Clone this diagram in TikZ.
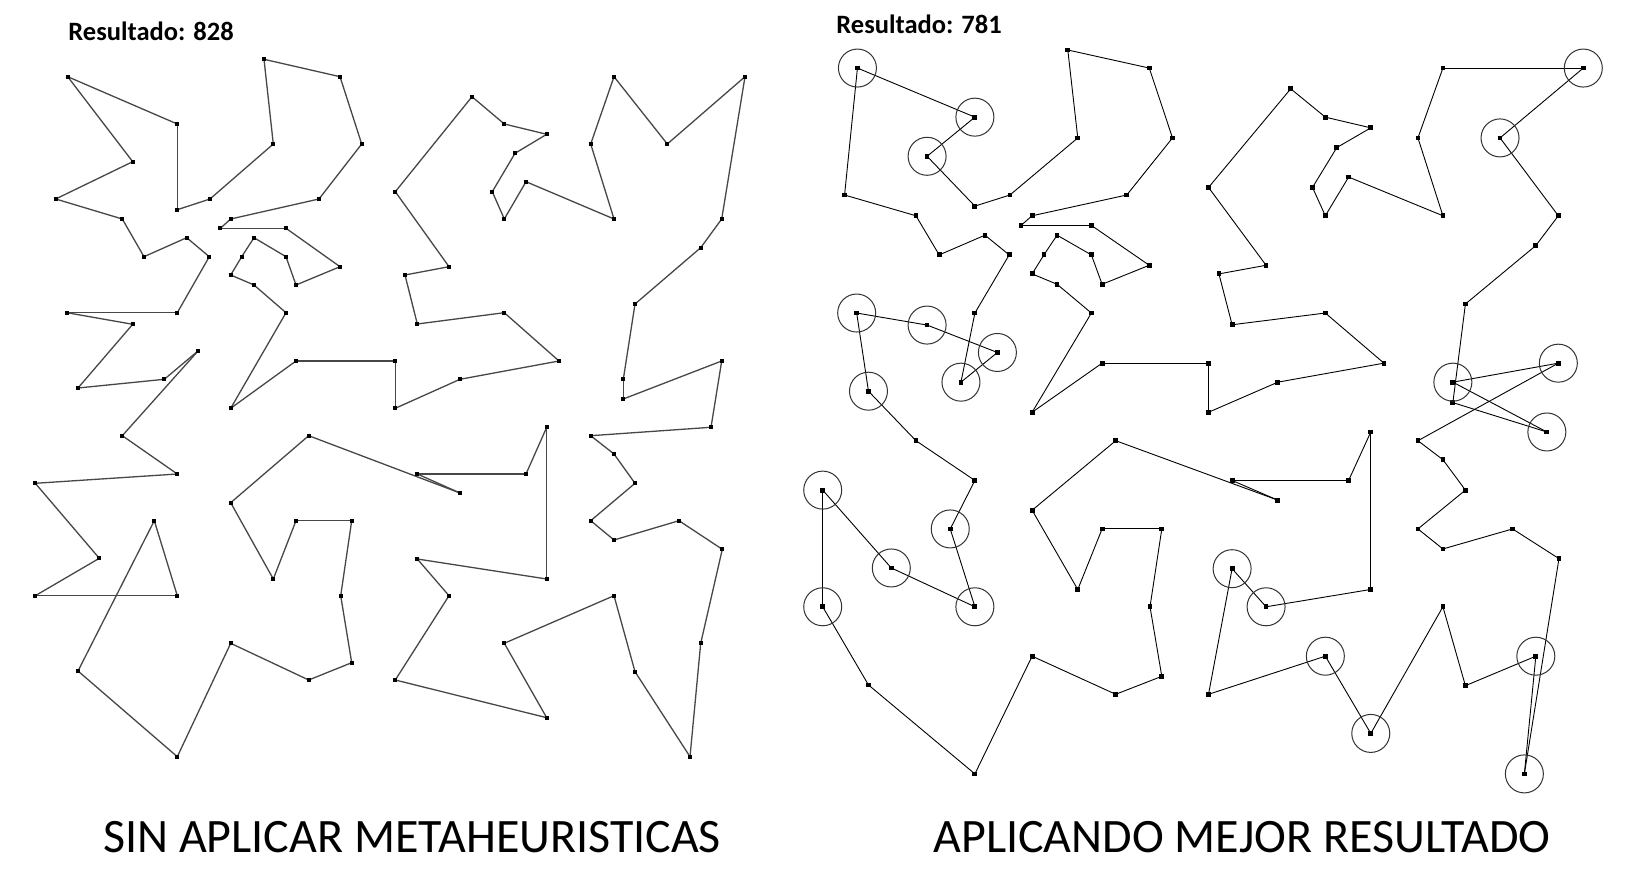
\documentclass[tikz,border=0pt]{standalone}
\usepackage{fontspec}
\setmainfont{Carlito}
\begin{document}
\begin{tikzpicture}[x=0.5pt,y=-0.5pt,
  ldot/.style={rectangle,fill=black,inner sep=0pt,minimum size=2pt},
  rdot/.style={rectangle,fill=black,inner sep=0pt,minimum size=2.4pt},
  ltour/.style={draw=black!72,line width=0.65pt,line cap=round},
  rtour/.style={draw=black,line width=0.45pt,line cap=round},
  ring/.style={circle,draw=black!80,line width=0.5pt,minimum size=19pt,inner sep=0pt},
  score/.style={font=\fontsize{13.25}{16}\selectfont\bfseries,anchor=base west,inner sep=0pt},
  caption/.style={font=\fontsize{24}{28}\selectfont,anchor=base,inner sep=0pt}]
\fill[white] (0,0) rectangle (1642,876);
\useasboundingbox (0,0) rectangle (1642,876);
% cities (left panel pixel coordinates), right panel is an affine copy
\foreach \i/\x/\y in {
1/67.7/76.7, 2/132.7/161.7, 3/55.7/199, 4/122.3/219, 5/144/256.7,
6/186.7/237.7, 7/209.3/256.7, 8/177.3/312.7, 9/67/312.7, 10/132.7/324.3,
11/78/388, 12/164.3/379.3, 13/198.3/350.7, 14/122.3/435.7, 15/177.3/474,
16/35.3/483.3, 17/99.3/558.3, 18/35.3/595.7, 19/177.3/595.7, 20/154.3/520.7,
21/78/671, 22/177.3/756.7, 23/230.7/643.3, 24/308.7/680, 25/351.7/662.7,
26/340.7/595.7, 27/351.7/520.7, 28/296/520.7, 29/273.3/579, 30/230.7/502.7,
31/308.7/435.7, 32/460/493, 33/417.3/474, 34/526/474, 35/546.7/427.3,
36/546.7/579, 37/417.3/559, 38/449/595.7, 39/395.3/680, 40/546.7/717.7,
41/504.3/643.3, 42/614/595.7, 43/635/671.7, 44/690/756.7, 45/700.7/643.3,
46/722.3/549.3, 47/679/520.7, 48/614/540, 49/590.7/520.7, 50/635/483.3,
51/614/454, 52/590.7/435.7, 53/711/427.3, 54/721.7/361, 55/623.3/399,
56/623.3/379.3, 57/635/304, 58/700.7/247.7, 59/721.7/219, 60/745/76.7,
61/667.3/144, 62/614/76.7, 63/590.7/144, 64/614/219, 65/526/181.7,
66/504.3/219, 67/492.3/191.7, 68/515/153.3, 69/546.7/134.3, 70/504.3/124,
71/472/96.7, 72/395.3/191.7, 73/449/266.7, 74/405/275, 75/417.3/324,
76/504.3/312.7, 77/559/361, 78/460/379.3, 79/395.3/408.3, 80/395.3/361,
81/296/361, 82/230.7/408.3, 83/286/312.7, 84/254/285, 85/230.7/275,
86/241.7/256.7, 87/254/237.7, 88/286/256.7, 89/296/285, 90/340/266.7,
91/286/228.3, 92/220.3/228.3, 93/230.7/219, 94/319/199, 95/361.7/144,
96/340/76.7, 97/264/59.3, 98/273.3/144, 99/210/199, 100/177.3/209.7,
101/177.3/124}{
  \coordinate (L\i) at (\x,\y);
  \coordinate (R\i) at ({1.0717*\x+784.87},{1.038*\y-11.55});
}
% left tour
\foreach \c [remember=\c as \p (initially 101)] in {1,...,101}{
  \draw[ltour] (L\p) -- (L\c);
}
% right tour
\foreach \c [remember=\c as \p (initially 101)] in {1,3,4,5,6,7,8,12,13,10,9,11,14,15,20,19,17,16,18,21,22,23,24,25,26,27,28,29,30,31,32,33,34,35,36,38,37,39,41,40,42,43,45,44,46,47,48,49,50,51,52,54,56,53,55,57,58,59,61,60,62,63,64,65,66,67,68,69,70,71,72,73,74,75,76,77,78,79,80,81,82,83,84,85,86,87,88,89,90,91,92,93,94,95,96,97,98,99,100,2,101}{
  \draw[rtour] (R\p) -- (R\c);
}
% city markers
\foreach \i in {1,...,101}{
  \node[ldot] (dl\i) at (L\i) {};
  \node[rdot] (dr\i) at (R\i) {};
}
% highlighted cities
\foreach \i in {1,101,2,9,10,13,12,11,16,20,17,18,19,37,38,41,40,45,44,60,61,56,54,53}{
  \node[ring] (ring\i) at (R\i) {};
}
% texts
\node[score] (s1) at (68,40.7) {Resultado: 828};
\node[score] (s2) at (836,34) {Resultado: 781};
\node[caption] (t1) at (412,852) {SIN APLICAR METAHEURISTICAS};
\node[caption] (t2) at (1242,852) {APLICANDO MEJOR RESULTADO};
\end{tikzpicture}
\end{document}
